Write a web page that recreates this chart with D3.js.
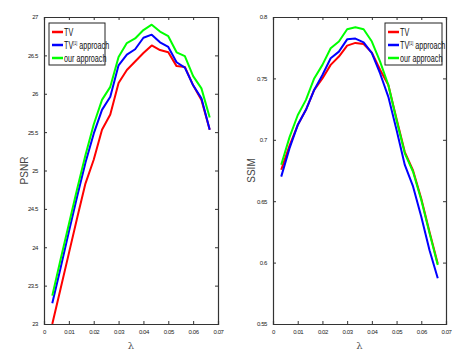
<!DOCTYPE html>
<html>
<head>
<meta charset="utf-8">
<script src="https://cdn.jsdelivr.net/npm/d3@7"></script>
<style>
  body { margin: 0; background: #fff; }
  svg { display: block; }
  .tick text { font-family: "Liberation Sans", Arial, sans-serif; font-size: 6px; letter-spacing: -0.4px; fill: #222; }
  .legend text { font-family: "Liberation Sans", Arial, sans-serif; font-size: 10px; fill: #111; }
  .ylabel { font-family: "Liberation Sans", Arial, sans-serif; font-size: 10px; fill: #444; }
  .xlabel { font-family: "DejaVu Serif", serif; font-size: 10px; fill: #555; }
</style>
</head>
<body>
<svg id="chart" width="464" height="361"></svg>
<script>
// lambda values (i/300)
const lambdas = d3.range(1, 21).map(i => i / 300);

const seriesNames = ['TV', 'TV', 'our approach'];
const seriesColors = ['#ff0000', '#0000ff', '#00ff00'];

const psnrTV = [23.0, 23.46, 23.92, 24.38, 24.83, 25.14, 25.53, 25.73, 26.14, 26.31,
                26.42, 26.53, 26.63, 26.57, 26.54, 26.36, 26.35, 26.11, 25.92, 25.53];
const psnrTV1 = [23.27, 23.73, 24.2, 24.66, 25.1, 25.48, 25.79, 25.96, 26.37, 26.51,
                 26.58, 26.73, 26.77, 26.67, 26.61, 26.41, 26.34, 26.11, 25.94, 25.53];
const psnrOurs = [23.37, 23.84, 24.3, 24.76, 25.2, 25.6, 25.92, 26.09, 26.48, 26.66,
                  26.72, 26.83, 26.9, 26.81, 26.75, 26.54, 26.49, 26.23, 26.07, 25.69];

const ssimTV = [0.6756, 0.695, 0.712, 0.7244, 0.7406, 0.75, 0.761, 0.7678, 0.7767, 0.7789,
                0.778, 0.771, 0.757, 0.7447, 0.717, 0.69, 0.675, 0.652, 0.625, 0.599];
const ssimTV1 = [0.670, 0.693, 0.712, 0.7244, 0.7406, 0.7528, 0.7664, 0.7718, 0.7818, 0.7824,
                 0.7794, 0.7705, 0.754, 0.735, 0.708, 0.6795, 0.662, 0.6374, 0.61, 0.5872];
const ssimOurs = [0.6797, 0.702, 0.720, 0.7325, 0.75, 0.761, 0.7745, 0.780, 0.790, 0.7916,
                  0.790, 0.780, 0.7637, 0.7446, 0.716, 0.689, 0.674, 0.651, 0.624, 0.598];

const xTicks = [0, 0.01, 0.02, 0.03, 0.04, 0.05, 0.06, 0.07];
const psnrTicks = [23, 23.5, 24, 24.5, 25, 25.5, 26, 26.5, 27];
const ssimTicks = [0.55, 0.6, 0.65, 0.7, 0.75, 0.8];

const svg = d3.select('#chart');

drawPanel({
  left: 44, right: 218, top: 17, bottom: 324,
  yDomain: [23, 27], yTicks: psnrTicks, yLabel: 'PSNR', yLabelX: 28,
  series: [psnrTV, psnrTV1, psnrOurs],
  legend: { x: 49, y: 23, w: 56, h: 42 }
});

drawPanel({
  left: 273, right: 446, top: 17, bottom: 324,
  yDomain: [0.55, 0.8], yTicks: ssimTicks, yLabel: 'SSIM', yLabelX: 255,
  series: [ssimTV, ssimTV1, ssimOurs],
  legend: { x: 385, y: 23, w: 57, h: 42 }
});

function drawPanel(opt) {
  const g = svg.append('g');
  const x = d3.scaleLinear().domain([0, 0.07]).range([opt.left, opt.right]);
  const y = d3.scaleLinear().domain(opt.yDomain).range([opt.bottom, opt.top]);

  // lines
  const line = d3.line().x((d, i) => x(lambdas[i])).y(d => y(d));
  opt.series.forEach((s, k) => {
    g.append('path').datum(s).attr('d', line)
      .attr('fill', 'none').attr('stroke', seriesColors[k])
      .attr('stroke-width', 2).attr('stroke-linejoin', 'round');
  });

  // axes with inward ticks, box style
  const fmt = d => String(d);
  const bottomAxis = d3.axisBottom(x).tickValues(xTicks).tickSize(-3).tickPadding(6).tickFormat(fmt);
  const topAxis = d3.axisTop(x).tickValues(xTicks).tickSize(-3).tickFormat('');
  const leftAxis = d3.axisLeft(y).tickValues(opt.yTicks).tickSize(-3).tickPadding(6).tickFormat(fmt);
  const rightAxis = d3.axisRight(y).tickValues(opt.yTicks).tickSize(-3).tickFormat('');

  [[bottomAxis, `translate(0,${opt.bottom})`], [topAxis, `translate(0,${opt.top})`],
   [leftAxis, `translate(${opt.left},0)`], [rightAxis, `translate(${opt.right},0)`]]
    .forEach(([ax, tr]) => {
      const a = g.append('g').attr('transform', tr).call(ax);
      a.select('.domain').attr('stroke', '#333').attr('stroke-width', 1.2);
      a.selectAll('.tick line').attr('stroke', '#333');
    });

  // axis labels
  g.append('text').attr('class', 'ylabel')
    .attr('transform', `translate(${opt.yLabelX},${(opt.top + opt.bottom) / 2}) rotate(-90)`)
    .attr('text-anchor', 'middle').text(opt.yLabel);
  g.append('text').attr('class', 'xlabel')
    .attr('x', (opt.left + opt.right) / 2).attr('y', 349)
    .attr('text-anchor', 'middle').text('λ');

  // legend (text squeezed horizontally like a narrow font)
  const L = opt.legend;
  const lg = g.append('g').attr('class', 'legend');
  lg.append('rect').attr('x', L.x).attr('y', L.y).attr('width', L.w).attr('height', L.h)
    .attr('fill', '#fff').attr('stroke', '#222').attr('stroke-width', 1);
  seriesNames.forEach((name, k) => {
    const yy = L.y + 9 + k * 13;
    lg.append('line').attr('x1', L.x + 3).attr('x2', L.x + 14).attr('y1', yy).attr('y2', yy)
      .attr('stroke', seriesColors[k]).attr('stroke-width', 2.5);
    const t = lg.append('text')
      .attr('transform', `translate(${L.x + 15},${yy + 3.5}) scale(0.72,1)`);
    t.append('tspan').text(name);
    if (k === 1) {
      t.append('tspan').attr('font-size', '5px').attr('dy', -4).text('[1]');
      t.append('tspan').attr('dy', 4).text(' approach');
    }
  });
}
</script>
</body>
</html>
